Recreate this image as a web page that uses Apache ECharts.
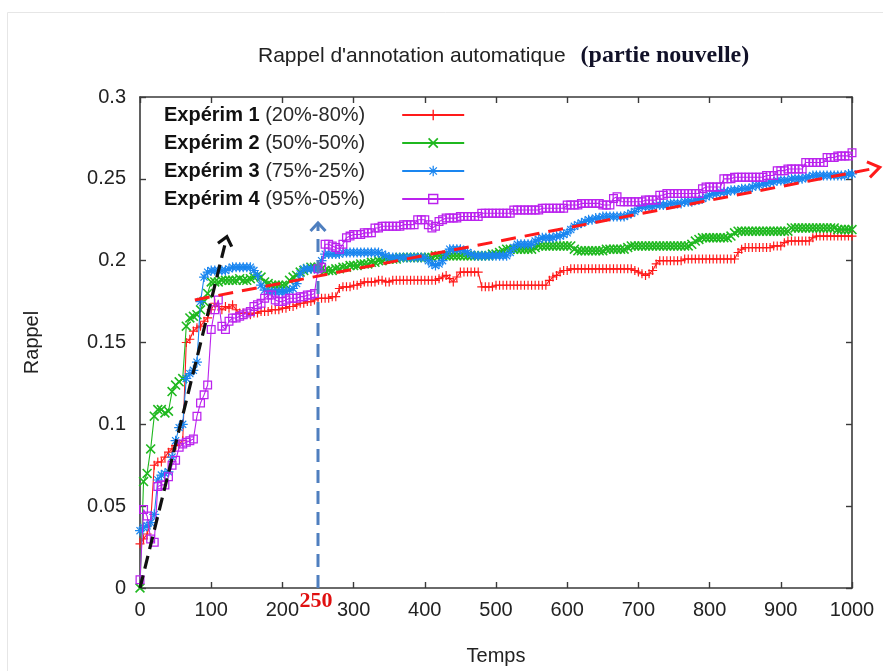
<!DOCTYPE html>
<html>
<head>
<meta charset="utf-8">
<script src="https://cdn.jsdelivr.net/npm/echarts@6.0.0/dist/echarts.min.js"></script>
<style>
  html, body { margin: 0; padding: 0; background: #fff; }
  #chart { width: 883px; height: 671px; }
</style>
</head>
<body>
<div id="chart"></div>
<script>
// Recall of the automatic annotation over time (new part), four experiments.
// Values are sampled every 5 time units, from 0 to 1000.
const PAS_TEMPS = 5;

const experim1 = [
  0.027, 0.030, 0.033, 0.040, 0.075, 0.077, 0.077, 0.080, 0.083, 0.085,
  0.087, 0.088, 0.090, 0.150, 0.152, 0.157, 0.159, 0.160, 0.163, 0.165,
  0.170, 0.174, 0.172, 0.170, 0.172, 0.171, 0.173, 0.170, 0.168, 0.168,
  0.168, 0.167, 0.168, 0.168, 0.169, 0.169, 0.169, 0.170, 0.170, 0.170,
  0.171, 0.171, 0.172, 0.172, 0.173, 0.174, 0.174, 0.175, 0.175, 0.176,
  0.177, 0.177, 0.177, 0.177, 0.178, 0.178, 0.183, 0.184, 0.184, 0.184,
  0.185, 0.185, 0.186, 0.187, 0.187, 0.187, 0.187, 0.188, 0.188, 0.187,
  0.187, 0.188, 0.188, 0.188, 0.188, 0.188, 0.188, 0.188, 0.188, 0.188,
  0.188, 0.188, 0.188, 0.188, 0.189, 0.190, 0.191, 0.189, 0.187, 0.190,
  0.193, 0.193, 0.193, 0.193, 0.193, 0.193, 0.184, 0.184, 0.184, 0.184,
  0.185, 0.185, 0.185, 0.185, 0.185, 0.185, 0.185, 0.185, 0.185, 0.185,
  0.185, 0.185, 0.185, 0.185, 0.185, 0.188, 0.190, 0.191, 0.193, 0.194,
  0.194, 0.195, 0.195, 0.195, 0.195, 0.195, 0.195, 0.195, 0.195, 0.195,
  0.195, 0.195, 0.195, 0.195, 0.195, 0.195, 0.195, 0.195, 0.195, 0.194,
  0.193, 0.192, 0.191, 0.192, 0.194, 0.198, 0.200, 0.200, 0.200, 0.200,
  0.200, 0.200, 0.200, 0.201, 0.201, 0.201, 0.201, 0.201, 0.201, 0.201,
  0.201, 0.201, 0.201, 0.201, 0.201, 0.201, 0.201, 0.201, 0.205, 0.207,
  0.208, 0.208, 0.208, 0.208, 0.208, 0.208, 0.208, 0.208, 0.209, 0.209,
  0.209, 0.211, 0.212, 0.212, 0.212, 0.212, 0.212, 0.212, 0.212, 0.214,
  0.215, 0.215, 0.215, 0.215, 0.215, 0.215, 0.215, 0.215, 0.215, 0.215,
  0.215
];

const experim2 = [
  0.000, 0.065, 0.070, 0.085, 0.105, 0.109, 0.109, 0.107, 0.108, 0.120,
  0.124, 0.126, 0.128, 0.160, 0.165, 0.166, 0.167, 0.170, 0.175, 0.180,
  0.187, 0.187, 0.187, 0.188, 0.188, 0.188, 0.188, 0.188, 0.189, 0.188,
  0.188, 0.189, 0.190, 0.191, 0.190, 0.187, 0.186, 0.185, 0.185, 0.185,
  0.185, 0.185, 0.188, 0.190, 0.191, 0.193, 0.194, 0.195, 0.196, 0.196,
  0.196, 0.195, 0.194, 0.194, 0.194, 0.195, 0.195, 0.196, 0.196, 0.197,
  0.197, 0.197, 0.198, 0.198, 0.198, 0.199, 0.199, 0.200, 0.200, 0.201,
  0.201, 0.201, 0.201, 0.202, 0.202, 0.202, 0.202, 0.202, 0.202, 0.202,
  0.202, 0.202, 0.202, 0.203, 0.203, 0.203, 0.203, 0.203, 0.203, 0.203,
  0.203, 0.203, 0.203, 0.203, 0.203, 0.203, 0.203, 0.203, 0.203, 0.204,
  0.204, 0.205, 0.206, 0.207, 0.207, 0.207, 0.207, 0.207, 0.207, 0.207,
  0.207, 0.208, 0.209, 0.209, 0.209, 0.209, 0.209, 0.209, 0.209, 0.209,
  0.209, 0.209, 0.207, 0.206, 0.206, 0.206, 0.206, 0.206, 0.206, 0.206,
  0.206, 0.207, 0.207, 0.207, 0.207, 0.207, 0.207, 0.208, 0.209, 0.209,
  0.209, 0.209, 0.209, 0.209, 0.209, 0.209, 0.209, 0.209, 0.209, 0.209,
  0.209, 0.209, 0.209, 0.209, 0.209, 0.210, 0.212, 0.213, 0.214, 0.214,
  0.214, 0.214, 0.214, 0.214, 0.214, 0.214, 0.215, 0.217, 0.218, 0.218,
  0.218, 0.218, 0.218, 0.218, 0.218, 0.218, 0.218, 0.218, 0.218, 0.218,
  0.218, 0.218, 0.218, 0.220, 0.220, 0.220, 0.220, 0.220, 0.220, 0.220,
  0.220, 0.220, 0.220, 0.220, 0.220, 0.220, 0.219, 0.219, 0.219, 0.219,
  0.219
];

const experim3 = [
  0.035, 0.037, 0.038, 0.040, 0.045, 0.066, 0.069, 0.070, 0.071, 0.080,
  0.090, 0.098, 0.100, 0.128, 0.131, 0.133, 0.138, 0.175, 0.190, 0.193,
  0.194, 0.194, 0.194, 0.194, 0.194, 0.195, 0.196, 0.196, 0.196, 0.196,
  0.196, 0.196, 0.194, 0.191, 0.185, 0.182, 0.181, 0.181, 0.181, 0.181,
  0.181, 0.181, 0.182, 0.183, 0.186, 0.192, 0.195, 0.195, 0.195, 0.195,
  0.195, 0.200, 0.204, 0.204, 0.204, 0.204, 0.204, 0.205, 0.205, 0.205,
  0.205, 0.205, 0.205, 0.205, 0.205, 0.205, 0.205, 0.205, 0.204, 0.203,
  0.202, 0.202, 0.202, 0.202, 0.202, 0.202, 0.202, 0.202, 0.202, 0.202,
  0.202, 0.200, 0.198, 0.197, 0.198, 0.200, 0.204, 0.207, 0.207, 0.207,
  0.207, 0.206, 0.205, 0.204, 0.203, 0.203, 0.203, 0.203, 0.203, 0.203,
  0.203, 0.203, 0.203, 0.203, 0.205, 0.208, 0.210, 0.210, 0.210, 0.210,
  0.210, 0.212, 0.213, 0.214, 0.214, 0.214, 0.214, 0.215, 0.215, 0.216,
  0.217, 0.219, 0.221, 0.222, 0.223, 0.224, 0.225, 0.225, 0.226, 0.226,
  0.227, 0.227, 0.227, 0.227, 0.227, 0.227, 0.227, 0.228, 0.229, 0.230,
  0.232, 0.233, 0.233, 0.233, 0.233, 0.234, 0.234, 0.234, 0.234, 0.235,
  0.235, 0.235, 0.235, 0.236, 0.236, 0.236, 0.237, 0.237, 0.238, 0.239,
  0.240, 0.241, 0.241, 0.242, 0.242, 0.242, 0.243, 0.243, 0.243, 0.244,
  0.244, 0.244, 0.245, 0.246, 0.246, 0.247, 0.247, 0.248, 0.248, 0.249,
  0.249, 0.249, 0.249, 0.250, 0.250, 0.250, 0.250, 0.251, 0.251, 0.252,
  0.252, 0.252, 0.252, 0.252, 0.252, 0.252, 0.252, 0.252, 0.252, 0.253,
  0.253
];

const experim4 = [
  0.005, 0.048, 0.044, 0.030, 0.028, 0.062, 0.063, 0.063, 0.068, 0.075,
  0.078, 0.086, 0.088, 0.089, 0.090, 0.091, 0.105, 0.113, 0.118, 0.124,
  0.158, 0.170, 0.176, 0.160, 0.158, 0.163, 0.165, 0.165, 0.166, 0.167,
  0.168, 0.169, 0.172, 0.173, 0.174, 0.177, 0.179, 0.179, 0.176, 0.175,
  0.175, 0.176, 0.177, 0.177, 0.177, 0.178, 0.178, 0.179, 0.179, 0.180,
  0.195, 0.196, 0.210, 0.210, 0.209, 0.208, 0.207, 0.210, 0.214, 0.215,
  0.216, 0.216, 0.216, 0.217, 0.217, 0.217, 0.220, 0.220, 0.221, 0.221,
  0.221, 0.221, 0.221, 0.221, 0.222, 0.222, 0.222, 0.222, 0.225, 0.225,
  0.225, 0.222, 0.220, 0.221, 0.224, 0.225, 0.226, 0.226, 0.226, 0.226,
  0.227, 0.227, 0.227, 0.227, 0.227, 0.227, 0.229, 0.229, 0.229, 0.229,
  0.229, 0.229, 0.229, 0.229, 0.229, 0.231, 0.231, 0.231, 0.231, 0.231,
  0.231, 0.231, 0.231, 0.232, 0.232, 0.232, 0.232, 0.232, 0.232, 0.232,
  0.234, 0.234, 0.234, 0.234, 0.235, 0.235, 0.235, 0.235, 0.235, 0.235,
  0.234, 0.234, 0.234, 0.238, 0.239, 0.236, 0.236, 0.236, 0.236, 0.236,
  0.236, 0.236, 0.237, 0.237, 0.237, 0.237, 0.240, 0.240, 0.241, 0.241,
  0.241, 0.241, 0.241, 0.241, 0.241, 0.241, 0.241, 0.241, 0.244, 0.245,
  0.245, 0.245, 0.245, 0.245, 0.250, 0.250, 0.250, 0.251, 0.251, 0.251,
  0.251, 0.251, 0.251, 0.251, 0.251, 0.251, 0.252, 0.252, 0.252, 0.255,
  0.255, 0.255, 0.256, 0.256, 0.256, 0.256, 0.256, 0.260, 0.260, 0.260,
  0.260, 0.260, 0.260, 0.263, 0.263, 0.263, 0.264, 0.264, 0.264, 0.264,
  0.266
];

const nomsSeries = ['Expérim 1', 'Expérim 2', 'Expérim 3', 'Expérim 4'];
const repartitions = ['(20%-80%)', '(50%-50%)', '(75%-25%)', '(95%-05%)'];

// Annotation arrows, in data coordinates [temps, rappel]
const flecheNoire = [[0, 0], [122, 0.2146]];
const flecheRouge = [[77, 0.176], [1039, 0.257]];
const flecheBleue = [[250, 0], [250, 0.223]];
const repereTemps = 250;

const temps = experim1.map((_, i) => i * PAS_TEMPS);

// ---- marker shapes -------------------------------------------------------
function barre(angle, L, w) {
  const c = Math.cos(angle), s = Math.sin(angle);
  const pts = [[-L / 2, -w / 2], [L / 2, -w / 2], [L / 2, w / 2], [-L / 2, w / 2]]
    .map(([x, y]) => [x * c - y * s, x * s + y * c]);
  return 'M' + pts.map(p => p[0].toFixed(3) + ',' + p[1].toFixed(3)).join('L') + 'Z';
}
const symPlus = 'path://' + barre(0, 10, 1.3) + barre(Math.PI / 2, 10, 1.3);
const symCroix = 'path://' + barre(Math.PI / 4, 11, 1.4) + barre(3 * Math.PI / 4, 11, 1.4);
const symEtoile = 'path://' + barre(0, 10, 1.2) + barre(Math.PI / 4, 10, 1.2) +
  barre(Math.PI / 2, 10, 1.2) + barre(3 * Math.PI / 4, 10, 1.2);
const symCarre = 'path://M0,0H10V10H0Z M1.4,1.4V8.6H8.6V1.4Z';

const SANS = '"Liberation Sans", Arial, sans-serif';
const SERIF = '"Liberation Serif", "Times New Roman", serif';

const couleurs = ['#ff1a1a', '#1fb81f', '#1a86f0', '#bb22ee'];
const symboles = [symPlus, symCroix, symEtoile, symCarre];
const tailles = [9, 10, 10, 9];
const valeurs = [experim1, experim2, experim3, experim4];

const chart = echarts.init(document.getElementById('chart'), null, { renderer: 'canvas' });

const axeCommun = {
  type: 'value',
  splitLine: { show: false },
  axisLine: { show: true, onZero: false, lineStyle: { color: '#3a3a3a', width: 1.6 } },
  axisTick: { show: true, inside: true, length: 6, lineStyle: { color: '#3a3a3a', width: 1.4 } }
};

const option = {
  animation: false,
  backgroundColor: '#fff',
  title: {
    left: 253,
    top: 39,
    text: '{a|Rappel d\'annotation automatique}   {b|(partie nouvelle)}',
    textStyle: {
      fontWeight: 'normal',
      rich: {
        a: { fontFamily: SANS, fontSize: 21, fontWeight: 'normal', color: '#222' },
        b: { fontFamily: SERIF, fontSize: 24, fontWeight: 'bold', color: '#111128' }
      }
    }
  },
  legend: {
    orient: 'vertical',
    align: 'right',
    left: 159,
    top: 100,
    itemWidth: 62,
    itemHeight: 13,
    itemGap: 8,
    data: nomsSeries,
    formatter: name => '{b|' + name + '}{n| ' + repartitions[nomsSeries.indexOf(name)] + '}',
    textStyle: {
      rich: {
        b: { fontFamily: SANS, fontSize: 20, fontWeight: 'bold', color: '#111', lineHeight: 20 },
        n: { fontFamily: SANS, fontSize: 20, color: '#2a2a2a', lineHeight: 20, padding: [0, 32, 0, 0] }
      }
    }
  },
  grid: { left: 140, right: 31, top: 97, bottom: 82, containLabel: false },
  xAxis: [
    Object.assign({}, axeCommun, {
      position: 'bottom', min: 0, max: 1000, interval: 100,
      name: 'Temps', nameLocation: 'middle', nameGap: 58,
      nameTextStyle: { fontFamily: SANS, fontSize: 20, color: '#222' },
      axisLabel: { fontFamily: SANS, fontSize: 20, color: '#222', margin: 12, formatter: v => String(v) }
    }),
    Object.assign({}, axeCommun, {
      position: 'top', min: 0, max: 1000, interval: 100,
      axisLabel: { show: false }
    })
  ],
  yAxis: [
    Object.assign({}, axeCommun, {
      position: 'left', min: 0, max: 0.3, interval: 0.05,
      name: 'Rappel', nameLocation: 'middle', nameGap: 98,
      nameTextStyle: { fontFamily: SANS, fontSize: 20, color: '#222' },
      axisLabel: { fontFamily: SANS, fontSize: 20, color: '#222', margin: 14 }
    }),
    Object.assign({}, axeCommun, {
      position: 'right', min: 0, max: 0.3, interval: 0.05,
      axisLabel: { show: false }
    })
  ],
  series: nomsSeries.map((nom, k) => ({
    name: nom,
    type: 'line',
    xAxisIndex: 0,
    yAxisIndex: 0,
    data: valeurs[k].map((v, i) => [temps[i], v]),
    symbol: symboles[k],
    symbolSize: tailles[k],
    showSymbol: true,
    lineStyle: { color: couleurs[k], width: 1.1 },
    itemStyle: { color: couleurs[k], borderWidth: 0 },
    emphasis: { disabled: true },
    z: 2 + k
  }))
};

chart.setOption(option);

// ---- annotations: dashed arrows and the 250 mark --------------------------
function px(p) {
  return chart.convertToPixel({ xAxisIndex: 0, yAxisIndex: 0 }, p);
}
function fleche(a, b, couleur, dash, largeur, taille, demiAngle) {
  const p = px(a), q = px(b);
  const ang = Math.atan2(q[1] - p[1], q[0] - p[0]);
  const h1 = [q[0] - taille * Math.cos(ang - demiAngle), q[1] - taille * Math.sin(ang - demiAngle)];
  const h2 = [q[0] - taille * Math.cos(ang + demiAngle), q[1] - taille * Math.sin(ang + demiAngle)];
  return [
    {
      type: 'line', z: 100,
      shape: { x1: p[0], y1: p[1], x2: q[0], y2: q[1] },
      style: { stroke: couleur, lineWidth: largeur, lineDash: dash, lineCap: 'butt' }
    },
    {
      type: 'polyline', z: 100,
      shape: { points: [h1, q, h2] },
      style: { stroke: couleur, lineWidth: largeur, fill: null, lineJoin: 'miter', lineCap: 'butt' }
    }
  ];
}

const base250 = px([repereTemps, 0]);
const graphiques = [
  {
    type: 'rect', z: -10, silent: true,
    shape: { x: 7.5, y: 12.5, width: 900, height: 700 },
    style: { fill: null, stroke: '#e6e6e6', lineWidth: 1 }
  },
  ...fleche(flecheBleue[0], flecheBleue[1], '#4f7fbf', [13, 8], 3, 11, 0.75),
  ...fleche(flecheRouge[0], flecheRouge[1], '#ff1a1a', [15, 9], 3, 14, 0.6),
  ...fleche(flecheNoire[0], flecheNoire[1], '#111', [13, 7], 3.2, 11, 0.7),
  {
    type: 'text', z: 101,
    x: base250[0] - 2, y: base250[1] + 13,
    style: {
      text: String(repereTemps),
      fontFamily: SERIF, fontSize: 22, fontWeight: 'bold',
      fill: '#e01010', align: 'center', verticalAlign: 'middle'
    }
  }
];

chart.setOption({ graphic: graphiques });
</script>
</body>
</html>
